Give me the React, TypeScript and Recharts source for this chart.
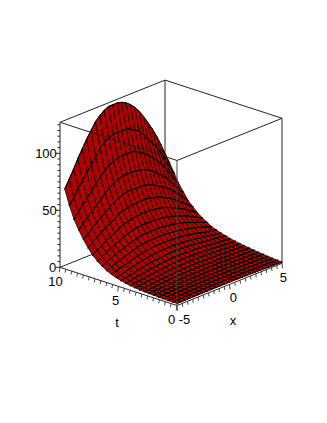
import React from "react";
import { ScatterChart, Scatter, XAxis, YAxis } from "recharts";

const W = 327;
const H = 423;

// Mesh positions along the two ground axes
const xGrid = [-5, -4.583, -4.167, -3.75, -3.333, -2.917, -2.5, -2.083, -1.667, -1.25, -0.833, -0.417, 0, 0.417, 0.833, 1.25, 1.667, 2.083, 2.5, 2.917, 3.333, 3.75, 4.167, 4.583, 5];
const tGrid = [0, 0.4, 0.8, 1.2, 1.6, 2, 2.4, 2.8, 3.2, 3.6, 4, 4.4, 4.8, 5.2, 5.6, 6, 6.4, 6.8, 7.2, 7.6, 8, 8.4, 8.8, 9.2, 9.6];

// Surface heights, one row per t value, one column per x value
const zRows = [
  [1.8,1.8,1.8,1.9,1.9,1.9,2,2,2,2,2,2,2,2,1.9,1.9,1.8,1.8,1.7,1.6,1.5,1.4,1.3,1.2,1.1],
  [1.8,1.8,1.9,2,2,2.1,2.1,2.2,2.2,2.3,2.3,2.3,2.3,2.3,2.2,2.2,2.1,2.1,2,1.9,1.8,1.7,1.6,1.5,1.4],
  [1.8,1.9,2,2.1,2.2,2.3,2.3,2.4,2.5,2.5,2.6,2.6,2.6,2.6,2.5,2.5,2.4,2.4,2.3,2.2,2.1,2,1.9,1.8,1.7],
  [1.9,2.1,2.2,2.3,2.4,2.5,2.6,2.7,2.8,2.9,2.9,3,3,3,2.9,2.9,2.8,2.8,2.7,2.6,2.5,2.4,2.3,2.2,2.1],
  [2.1,2.2,2.4,2.5,2.6,2.8,2.9,3,3.2,3.3,3.3,3.4,3.4,3.4,3.3,3.3,3.2,3.2,3.1,3,2.9,2.9,2.8,2.7,2.6],
  [2.3,2.4,2.6,2.8,2.9,3.1,3.3,3.4,3.6,3.7,3.8,3.8,3.9,3.9,3.8,3.8,3.7,3.7,3.6,3.5,3.4,3.3,3.2,3.1,3],
  [2.5,2.7,2.9,3.1,3.3,3.5,3.7,3.9,4.1,4.3,4.4,4.4,4.5,4.5,4.4,4.4,4.3,4.2,4.1,4,3.9,3.8,3.7,3.6,3.5],
  [2.7,3,3.2,3.5,3.8,4.1,4.3,4.6,4.8,5,5.2,5.2,5.3,5.3,5.2,5.1,5,4.9,4.8,4.7,4.5,4.4,4.3,4.1,4],
  [3,3.3,3.6,4,4.3,4.7,5,5.3,5.6,5.9,6,6.1,6.2,6.2,6.1,6,5.9,5.8,5.7,5.5,5.3,5.1,4.9,4.7,4.6],
  [3.5,3.8,4.2,4.6,5,5.5,5.9,6.3,6.7,7,7.2,7.3,7.4,7.4,7.3,7.2,7.1,6.9,6.7,6.4,6.2,5.9,5.7,5.5,5.3],
  [4,4.4,5,5.4,6,6.5,7,7.5,8,8.3,8.6,8.7,8.8,8.8,8.7,8.6,8.4,8.1,7.8,7.5,7.2,6.8,6.5,6.2,6],
  [4.8,5.3,6,6.6,7.2,7.8,8.5,9,9.5,10,10.2,10.4,10.5,10.5,10.4,10.2,10,9.7,9.3,8.9,8.5,8,7.6,7.2,6.8],
  [5.8,6.5,7.3,8,9,9.5,10.5,11,11.5,12,12.4,12.6,12.7,12.7,12.6,12.4,12,11.7,11.2,10.6,10,9.6,9,8.5,8],
  [7,8,9,10,11,12,13,13.5,14,14.5,15,15,15,15,15,14.5,14,13.5,13,12.5,12,11,10.5,10,9],
  [8.5,10,11,12,13,14.5,15.5,16,17,17.5,18,18,18,18,17.5,17.5,17,16.5,15.5,15,14,13,12,11.5,10.5],
  [10.5,12,13.5,15,16.5,17.5,19,20,21,21.5,22,22,22,22,21.5,21,20.5,20,19,18,17,16,14.5,13.5,12],
  [13,15,17,18.5,20,21.5,23,24.5,25,26,26.5,26.5,26.5,26.5,26,25.5,25,24,23,22,20.5,19,17.5,16,14.5],
  [16,18.5,20.5,23,24.5,26,28,29.5,30.5,31.5,32,32,32,32,31.5,31,30,29,28,26.5,25,23,21,19,17],
  [20,23,25,28,30,32,34,36,37,38,39,39,39,39,38.5,38,37,35.5,34,32,30,28,25,23,20],
  [25,28,31,34,36,39,41,44,45,46.5,47.5,47.5,47.5,47.5,47,46,45,43,41,39,36,33,30,27,24],
  [31,34,38,41,44,47,50,53,55,56.5,57.5,57.5,57.5,57.5,57,56,54,52,49.5,47,44,40,36,32,28],
  [38,42,46,50,54,57,61,64,67,69,70,70,70,70,69,68,66,63,60,57,53,48,43,38,34],
  [46,51,56,60,65,70,74,78,81,83,85,85,85,85,84,82,79,76,72,68,64,58,52,46,40],
  [57,62,69,74,80,85,90,96,100,102,104,104,104,104,102,100,97,93,87,82,77,70,62,55,48],
  [70,77,84,92,99,106,112,118,122,125,127,127,127,126,124,121,117,112,106,99,92,84,75,65,56],
];

// Axis ticks and labels
const zTicks = [0,5,10,15,20,25,30,35,40,45,50,55,60,65,70,75,80,85,90,95,100,105,110,115,120,125];
const tTicks = [0,0.5,1,1.5,2,2.5,3,3.5,4,4.5,5,5.5,6,6.5,7,7.5,8,8.5,9,9.5,10];
const xTicks = [-5,-4.5,-4,-3.5,-3,-2.5,-2,-1.5,-1,-0.5,0,0.5,1,1.5,2,2.5,3,3.5,4,4.5,5];
const xMin = -5, xMax = 5, tMax = 10, zMax = 127.2;

// View of the box on the page
const view = { ox: 177, oy: 305.5, xx: 10.5, xy: -4.22, tx: -11.7, ty: -3.82, zy: -1.14 };
const project = (x: number, t: number, z: number): [number, number] => [
  view.ox + (x + 5) * view.xx + t * view.tx,
  view.oy + (x + 5) * view.xy + t * view.ty + z * view.zy,
];

const seg = (a: [number, number], b: [number, number], color = "#222", w = 1) => ({
  sx: a[0], sy: a[1], ex: b[0], ey: b[1], color, w,
});
const shift = (p: [number, number], dx: number, dy: number): [number, number] => [p[0] + dx, p[1] + dy];

const backLines = [
  seg(project(xMin, tMax, 0), project(xMax, tMax, 0)),
  seg(project(xMax, tMax, 0), project(xMax, 0, 0)),
  seg(project(xMax, tMax, 0), project(xMax, tMax, zMax)),
  seg(project(xMin, tMax, zMax), project(xMax, tMax, zMax)),
  seg(project(xMax, tMax, zMax), project(xMax, 0, zMax)),
  seg(project(xMin, tMax, 0), project(xMin, tMax, zMax)),
  seg(project(xMax, 0, 0), project(xMax, 0, zMax)),
];

const frontLines = [
  seg(project(xMin, tMax, zMax), project(xMin, 0, zMax)),
  seg(project(xMin, 0, zMax), project(xMax, 0, zMax)),
  seg(project(xMin, 0, 0), project(xMin, 0, zMax), "#444", 1),
  seg(project(xMin, tMax, 0), project(xMin, 0, 0)),
  seg(project(xMin, 0, 0), project(xMax, 0, 0)),
  ...zTicks.map((z) => {
    const p = project(xMin, tMax, z);
    return seg(p, shift(p, z % 50 === 0 ? -4 : -2.5, 0));
  }),
  ...tTicks.map((t) => {
    const p = project(xMin, t, 0);
    return seg(p, shift(p, -0.8, t % 5 === 0 ? 5 : 3.5), "#444");
  }),
  ...xTicks.map((x) => {
    const p = project(x, 0, 0);
    return seg(p, shift(p, 0.5, x % 5 === 0 ? 5 : 3.5), "#444");
  }),
];

const labels = [
  { text: "100", sx: 46, sy: 153 },
  { text: "50", sx: 49.5, sy: 210 },
  { text: "0", sx: 52.7, sy: 267 },
  { text: "10", sx: 55.5, sy: 281.5 },
  { text: "5", sx: 115.5, sy: 300 },
  { text: "0", sx: 171.5, sy: 319.5 },
  { text: "t", sx: 117, sy: 322.5 },
  { text: "-5", sx: 184.5, sy: 319.5 },
  { text: "0", sx: 233.3, sy: 297.5 },
  { text: "5", sx: 283.3, sy: 277 },
  { text: "x", sx: 233, sy: 320.5 },
];

type Cell = { sx: number; sy: number; corners: [number, number][] };
const cells: Cell[] = [];
for (let ti = tGrid.length - 2; ti >= 0; ti--) {
  for (let xi = xGrid.length - 2; xi >= 0; xi--) {
    const corners: [number, number][] = [
      project(xGrid[xi], tGrid[ti], zRows[ti][xi]),
      project(xGrid[xi + 1], tGrid[ti], zRows[ti][xi + 1]),
      project(xGrid[xi + 1], tGrid[ti + 1], zRows[ti + 1][xi + 1]),
      project(xGrid[xi], tGrid[ti + 1], zRows[ti + 1][xi]),
    ];
    cells.push({ sx: corners[0][0], sy: corners[0][1], corners });
  }
}

const QuadShape = (props: any) => {
  const { cx, cy, payload } = props;
  const p = payload.corners.map((c: [number, number]) => [cx + c[0] - payload.sx, cy + c[1] - payload.sy]);
  const pts = p.map((q: number[]) => q.join(",")).join(" ");
  return (
    <g>
      <polygon points={pts} fill="#b00000" stroke="#000" strokeWidth={0.7} strokeLinejoin="round" />
      <line x1={p[0][0]} y1={p[0][1]} x2={p[1][0]} y2={p[1][1]} stroke="#000" strokeWidth={1} strokeLinecap="round" />
      <line x1={p[3][0]} y1={p[3][1]} x2={p[2][0]} y2={p[2][1]} stroke="#000" strokeWidth={1} strokeLinecap="round" />
    </g>
  );
};

const SegShape = (props: any) => {
  const { cx, cy, payload } = props;
  return (
    <line
      x1={cx}
      y1={cy}
      x2={cx + payload.ex - payload.sx}
      y2={cy + payload.ey - payload.sy}
      stroke={payload.color}
      strokeWidth={payload.w}
    />
  );
};

const TextShape = (props: any) => {
  const { cx, cy, payload } = props;
  return (
    <text
      x={cx}
      y={cy}
      textAnchor="middle"
      dominantBaseline="central"
      fontFamily="'Liberation Sans', Arial, sans-serif"
      fontSize={13}
      fill="#000"
    >
      {payload.text}
    </text>
  );
};

export default function App() {
  return (
    <div style={{ position: "absolute", left: 0, top: 0, width: W, height: H, background: "#fff" }}>
      <ScatterChart width={W} height={H} margin={{ top: 0, right: 0, bottom: 0, left: 0 }}>
        <XAxis type="number" dataKey="sx" domain={[0, W]} hide allowDataOverflow />
        <YAxis type="number" dataKey="sy" domain={[0, H]} reversed hide allowDataOverflow />
        <Scatter data={backLines} shape={SegShape} isAnimationActive={false} />
        <Scatter data={cells} shape={QuadShape} isAnimationActive={false} />
        <Scatter data={frontLines} shape={SegShape} isAnimationActive={false} />
        <Scatter data={labels} shape={TextShape} isAnimationActive={false} />
      </ScatterChart>
    </div>
  );
}
